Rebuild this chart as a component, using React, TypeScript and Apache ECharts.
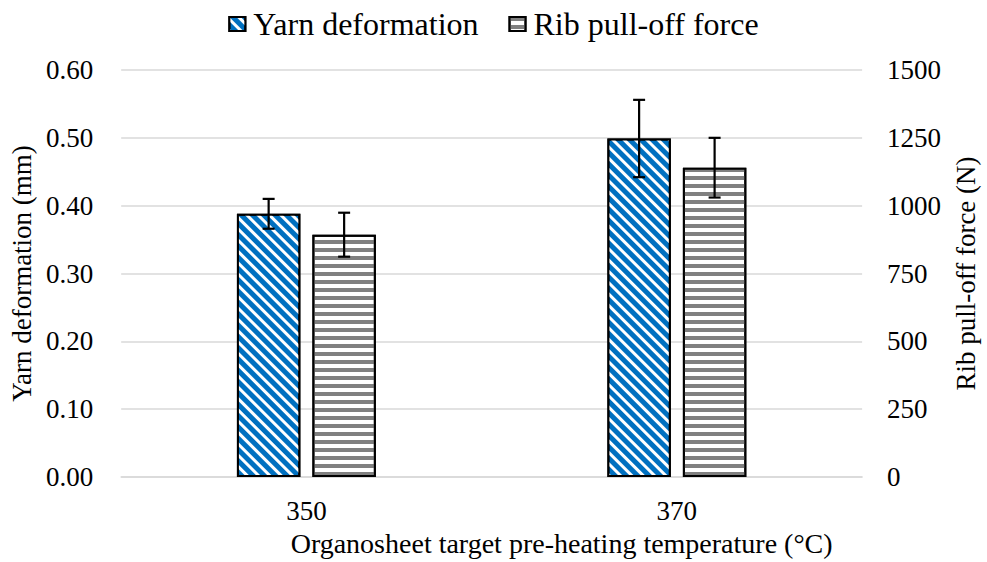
import React, { useEffect, useRef } from "react";
import * as echarts from "echarts";

const categories = ["350", "370"];
const yarnDeformation = [0.388, 0.499];
const yarnError = [0.022, 0.057];
const ribForce = [893, 1140];
const ribError = [81, 110];
const seriesNames = ["Yarn deformation", "Rib pull-off force"];

const FONT = "'Liberation Serif', 'Times New Roman', serif";
const CAT_GAP = 0.625;
const BAR_GAP = 0.19;

function errorSeries(name: string, values: number[], errs: number[], yAxisIndex: number, side: number) {
  return {
    type: "custom",
    name: name + " error",
    yAxisIndex,
    silent: true,
    z: 10,
    data: values.map((v, i) => [i, v - errs[i], v + errs[i]]),
    renderItem: (params: any, api: any) => {
      const idx = api.value(0);
      const lo = api.coord([idx, api.value(1)]);
      const hi = api.coord([idx, api.value(2)]);
      const band = api.size([1, 0])[0];
      const bw = (band * (1 - CAT_GAP)) / (2 + BAR_GAP);
      const off = (bw * (1 + BAR_GAP)) / 2;
      const x = lo[0] + side * off;
      const cap = 6;
      const style = { stroke: "#000", lineWidth: 2.2, fill: "none" };
      return {
        type: "group",
        children: [
          { type: "line", shape: { x1: x, y1: lo[1], x2: x, y2: hi[1] }, style },
          { type: "line", shape: { x1: x - cap, y1: lo[1], x2: x + cap, y2: lo[1] }, style },
          { type: "line", shape: { x1: x - cap, y1: hi[1], x2: x + cap, y2: hi[1] }, style },
        ],
      };
    },
  };
}

export default function App() {
  const ref = useRef<HTMLDivElement>(null);
  useEffect(() => {
    if (!ref.current) return;
    const chart = echarts.init(ref.current, undefined, { renderer: "svg" });
    const textStyle = { fontFamily: FONT, fontSize: 27, color: "#000" };
    chart.setOption({
      animation: false,
      textStyle: { fontFamily: FONT },
      legend: {
        data: seriesNames,
        top: 3,
        left: "center",
        icon: "rect",
        itemWidth: 16,
        itemHeight: 14,
        itemGap: 30,
        textStyle: { ...textStyle, fontSize: 32, padding: [0, 0, 0, 3] },
      },
      grid: { left: 121, right: 119, top: 70, bottom: 84 },
      xAxis: {
        type: "category",
        data: categories,
        axisTick: { show: false },
        axisLine: { lineStyle: { color: "#d9d9d9", width: 1.5 } },
        axisLabel: { ...textStyle, margin: 20 },
        name: "Organosheet target pre-heating temperature (°C)",
        nameLocation: "middle",
        nameGap: 52,
        nameTextStyle: { ...textStyle, fontSize: 28, padding: [0, 0, 0, 140] },
      },
      yAxis: [
        {
          type: "value",
          min: 0,
          max: 0.6,
          interval: 0.1,
          axisLine: { show: false },
          axisTick: { show: false },
          splitLine: { lineStyle: { color: "#d9d9d9", width: 1.5 } },
          axisLabel: { ...textStyle, margin: 28, formatter: (v: number) => v.toFixed(2) },
          name: "Yarn deformation (mm)",
          nameLocation: "middle",
          nameGap: 82,
          nameTextStyle: textStyle,
        },
        {
          type: "value",
          min: 0,
          max: 1500,
          interval: 250,
          position: "right",
          axisLine: { show: false },
          axisTick: { show: false },
          splitLine: { show: false },
          axisLabel: { ...textStyle, margin: 25, formatter: (v: number) => String(v) },
          name: "Rib pull-off force (N)",
          nameLocation: "middle",
          nameGap: 88,
          nameRotate: 90,
          nameTextStyle: textStyle,
        },
      ],
      series: [
        {
          type: "bar",
          name: seriesNames[0],
          yAxisIndex: 0,
          data: yarnDeformation,
          barCategoryGap: CAT_GAP * 100 + "%",
          barGap: BAR_GAP * 100 + "%",
          itemStyle: {
            color: "#0070C0",
            borderColor: "#000",
            borderWidth: 2,
            decal: {
              symbol: "rect",
              symbolSize: 1,
              color: "#ffffff",
              dashArrayX: [1, 0],
              dashArrayY: [2.5, 5],
              rotation: Math.PI / 4,
            },
          },
        },
        {
          type: "bar",
          name: seriesNames[1],
          yAxisIndex: 1,
          data: ribForce,
          barCategoryGap: CAT_GAP * 100 + "%",
          barGap: BAR_GAP * 100 + "%",
          itemStyle: {
            color: "#ffffff",
            borderColor: "#000",
            borderWidth: 2,
            decal: {
              symbol: "rect",
              symbolSize: 1,
              color: "#808080",
              dashArrayX: [1, 0],
              dashArrayY: [4, 4],
              rotation: 0,
            },
          },
        },
        errorSeries(seriesNames[0], yarnDeformation, yarnError, 0, -1),
        errorSeries(seriesNames[1], ribForce, ribError, 1, 1),
      ],
    });
    return () => chart.dispose();
  }, []);
  return <div ref={ref} style={{ width: 987, height: 562, position: "absolute", left: 0, top: 0 }} />;
}
